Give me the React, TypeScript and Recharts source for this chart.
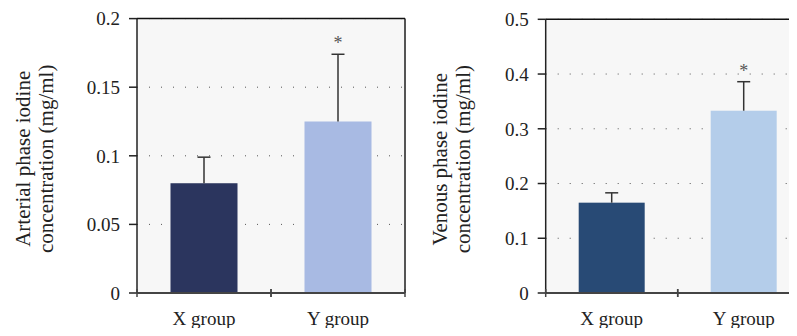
import React from 'react';
import { Bar, BarChart, CartesianGrid, Cell, ReferenceLine, XAxis, YAxis } from 'recharts';

const groups = ['X group', 'Y group'];
const significant = [false, true];

const arterialMeans = [0.08, 0.125];
const arterialSd = [0.019, 0.049];
const arterialTicks = [0, 0.05, 0.1, 0.15, 0.2];
const arterialColors = ['#2b355e', '#a8bae3'];

const venousMeans = [0.165, 0.333];
const venousSd = [0.018, 0.053];
const venousTicks = [0, 0.1, 0.2, 0.3, 0.4, 0.5];
const venousColors = ['#284a75', '#b4cdea'];

const FONT = '"Liberation Serif", "Times New Roman", serif';
const Y_WIDTH = 80;

const buildRows = (means: number[], sds: number[]) =>
  groups.map((name, i) => ({ name, mean: means[i], sd: sds[i], sig: significant[i] }));

// bar + upper whisker only, asterisk above for significant groups
const BarWithError = (props: any) => {
  const { x, y, width, height, fill, payload } = props;
  const perUnit = payload.mean ? height / payload.mean : 0;
  const top = y - payload.sd * perUnit;
  const cx = x + width / 2;
  return (
    <g>
      <rect x={x} y={y} width={width} height={height} fill={fill} />
      <line x1={cx} x2={cx} y1={y} y2={top} stroke="#333" strokeWidth={1.5} />
      <line x1={cx - 6.5} x2={cx + 6.5} y1={top} y2={top} stroke="#333" strokeWidth={1.5} />
      {payload.sig && (
        <text x={cx} y={top - 5} textAnchor="middle" fontFamily={FONT} fontSize={18} fill="#555">*</text>
      )}
    </g>
  );
};

// category label plus tick marks at the band edges
const GroupTick = (props: any) => {
  const { x, y, payload, width, visibleTicksCount } = props;
  const half = width && visibleTicksCount ? width / visibleTicksCount / 2 : payload.offset || 0;
  return (
    <g>
      <line x1={x - half} x2={x - half} y1={y - 4} y2={y + 4} stroke="#444" strokeWidth={1.5} />
      <line x1={x + half} x2={x + half} y1={y - 4} y2={y + 4} stroke="#444" strokeWidth={1.5} />
      <text x={x} y={y + 32} textAnchor="middle" fontFamily={FONT} fontSize={19} fill="#222">{payload.value}</text>
    </g>
  );
};

const AxisTitle = (props: any) => {
  const { viewBox, lines, d1, d2 } = props;
  const axisX = viewBox.x + viewBox.width;
  const cy = viewBox.y + viewBox.height / 2 + 3;
  return (
    <g>
      {lines.map((line: string, i: number) => {
        const cx = axisX - (i === 0 ? d1 : d2);
        return (
          <text key={line} x={cx} y={cy} dy="0.35em" textAnchor="middle" transform={`rotate(-90, ${cx}, ${cy})`}
            fontFamily={FONT} fontSize={21} fill="#222">{line}</text>
        );
      })}
    </g>
  );
};

interface PanelProps {
  rows: { name: string; mean: number; sd: number; sig: boolean }[];
  ticks: number[];
  colors: string[];
  lines: string[];
  plotLeft: number;
  top: number;
  right: number;
  d1: number;
  d2: number;
}

const Panel: React.FC<PanelProps> = ({ rows, ticks, colors, lines, plotLeft, top, right, d1, d2 }) => {
  const max = ticks[ticks.length - 1];
  return (
    <BarChart width={420} height={336} data={rows} barCategoryGap="25%"
      margin={{ top, right, bottom: 3, left: plotLeft - Y_WIDTH }}>
      <CartesianGrid vertical={false} strokeDasharray="1 11" stroke="#555" fill="#f7f7f7" fillOpacity={1} />
      <CartesianGrid horizontal={false} stroke="#555" strokeWidth={2}
        verticalCoordinatesGenerator={({ offset }: any) => [offset.left + offset.width]} />
      <ReferenceLine y={max} stroke="#111" strokeWidth={1.5} />
      <XAxis dataKey="name" height={40} stroke="#444" strokeWidth={2} tickLine={false} tickSize={0} tickMargin={0}
        interval={0} tick={<GroupTick />} />
      <YAxis type="number" domain={[0, max]} ticks={ticks} interval={0} width={Y_WIDTH} stroke="#222" strokeWidth={1.5}
        tickSize={8} tickMargin={9} tick={{ fontFamily: FONT, fontSize: 19, fill: '#222' }}
        label={<AxisTitle lines={lines} d1={d1} d2={d2} />} />
      <Bar dataKey="mean" shape={<BarWithError />} isAnimationActive={false}>
        {rows.map((r, i) => <Cell key={r.name} fill={colors[i]} />)}
      </Bar>
    </BarChart>
  );
};

const App: React.FC = () => (
  <div style={{ position: 'relative', width: 797, height: 336, margin: -8, overflow: 'hidden', background: '#fff' }}>
    <div style={{ position: 'absolute', left: 0, top: 0 }}>
      <Panel rows={buildRows(arterialMeans, arterialSd)} ticks={arterialTicks} colors={arterialColors}
        lines={['Arterial phase iodine', 'concentration (mg/ml)']} plotLeft={137} top={18.6} right={15} d1={114} d2={91} />
    </div>
    <div style={{ position: 'absolute', left: 400, top: 0 }}>
      <Panel rows={buildRows(venousMeans, venousSd)} ticks={venousTicks} colors={venousColors}
        lines={['Venous phase iodine', 'concentration (mg/ml)']} plotLeft={145.7} top={19.3} right={10.3} d1={106} d2={83} />
    </div>
  </div>
);

export default App;
